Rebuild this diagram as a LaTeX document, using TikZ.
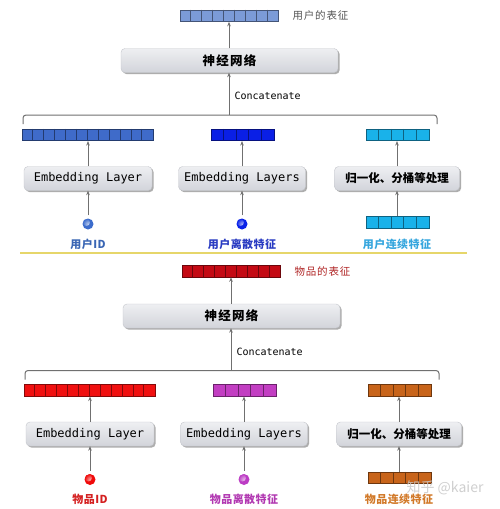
\documentclass[tikz,border=0pt]{standalone}
\usepackage{fontspec}
\setmonofont{DejaVu Sans Mono}
\newfontfamily\cjk{Noto Sans CJK SC}
\usetikzlibrary{arrows.meta,shadows,calc}

\definecolor{boxtop}{HTML}{EEEFF2}
\definecolor{boxbot}{HTML}{D2D4DA}
\definecolor{boxedge}{HTML}{C4C6CC}
\definecolor{arrowgray}{HTML}{707070}
\definecolor{sepyellow}{HTML}{E6D66A}

\definecolor{uctop}{HTML}{7B9BD8}
\definecolor{ucv1}{HTML}{3F6BC9}
\definecolor{ucv2}{HTML}{0A1FE6}
\definecolor{ucv3}{HTML}{19B2EA}
\definecolor{ultop}{HTML}{555555}
\definecolor{ul1}{HTML}{3A66B4}
\definecolor{ul2}{HTML}{2A3CC2}
\definecolor{ul3}{HTML}{35A6DE}
\definecolor{ucd1}{HTML}{3C6CCC}
\definecolor{ucd2}{HTML}{0A22E8}

\definecolor{ictop}{HTML}{C40A14}
\definecolor{icv1}{HTML}{F01010}
\definecolor{icv2}{HTML}{C23EC2}
\definecolor{icv3}{HTML}{C8641A}
\definecolor{iltop}{HTML}{B02424}
\definecolor{il1}{HTML}{D42020}
\definecolor{il2}{HTML}{B23AB2}
\definecolor{il3}{HTML}{D27A2A}
\definecolor{icd1}{HTML}{F00A0A}
\definecolor{icd2}{HTML}{BC3CC4}

\tikzset{
  vecbox/.style={rectangle, inner sep=0pt, minimum height=11.5pt, line width=0.6pt},
  procbox/.style={rectangle, rounded corners=4pt, inner sep=0pt, minimum height=24pt,
    top color=boxtop, bottom color=boxbot, draw=boxedge, line width=0.4pt,
    drop shadow={shadow xshift=1.6pt, shadow yshift=-1.6pt, fill=black!40, opacity=0.8}},
  conn/.style={draw=arrowgray, line width=1pt, -{Stealth[length=4.5pt,width=3.6pt]}},
  bracestyle/.style={draw=arrowgray, line width=1pt, rounded corners=3pt},
  monotext/.style={font=\ttfamily\fontsize{12}{14}\selectfont},
  cjktext/.style={font=\cjk\bfseries\fontsize{11.5}{13}\selectfont},
  lbltext/.style={font=\cjk\bfseries\fontsize{11}{13}\selectfont\addfontfeature{LetterSpace=4}},
  dot/.style={circle, inner sep=0pt, minimum width=11pt, minimum height=10pt, fill=#1,
    path picture={\shade[inner color=#1!35!white, outer color=#1]
      ($(path picture bounding box.center)+(-1.6pt,1.6pt)$) circle (3.6pt);}},
}

\newcommand\cellvec[6]{% name, x, y, n, cell width, colour
  \pgfmathsetmacro\vw{#4*#5}
  \node[vecbox, fill=#6, draw=#6!55!black, minimum width=\vw pt] (#1) at (#2,#3) {};
  \pgfmathtruncatemacro\vn{#4-1}
  \foreach \i in {1,...,\vn}{%
    \draw[#6!55!black, line width=0.5pt] ($(#1.north west)+(\i*#5,0)$) -- ($(#1.south west)+(\i*#5,0)$);}
}

\newcommand\halfsec[5]{% prefix, top label, id label, discrete label, continuous label
  % output vector
  \cellvec{#1top}{229}{15.75}{9}{10.9}{#1ctop}
  \node[anchor=west, font=\cjk\fontsize{10.5}{12}\selectfont\addfontfeature{LetterSpace=8}, text=#1ltop] (#1toplbl) at (289,15.5) {#2};
  % neural net
  \node[procbox, minimum width=217pt, font=\cjk\bfseries\fontsize{12.5}{14}\selectfont\addfontfeature{LetterSpace=10}] (#1nn) at (229.5,60.5) {神经网络};
  \draw[conn] (#1nn.north -| #1top.south) -- (#1top.south);
  % brace
  \coordinate (#1br) at (229,115);
  \draw[bracestyle] (23,124) |- (#1br) -| (437,124);
  \draw[conn] (#1br) -- (#1br |- #1nn.south);
  \node[anchor=west, font=\ttfamily\fontsize{10}{12}\selectfont] (#1cat) at (231,96) {Concatenate};
  % row vectors
  \cellvec{#1v1}{87.5}{135}{12}{10.9}{#1cv1}
  \cellvec{#1v2}{242.5}{135}{5}{12.6}{#1cv2}
  \cellvec{#1v3}{397.5}{135}{5}{12.6}{#1cv3}
  % boxes
  \node[procbox, minimum width=128pt, monotext] (#1b1) at (88,178.5) {Embedding Layer};
  \node[procbox, minimum width=127pt, monotext] (#1b2) at (242,178.5) {Embedding Layers};
  \node[procbox, minimum width=125pt, cjktext] (#1b3) at (397,178.5) {归一化、分桶等处理};
  \draw[conn] (#1b1.north) -- (#1b1.north |- #1v1.south);
  \draw[conn] (#1b2.north) -- (#1b2.north |- #1v2.south);
  \draw[conn] (#1b3.north) -- (#1b3.north |- #1v3.south);
  % inputs
  \node[dot=#1cd1] (#1d1) at (88,224) {};
  \node[dot=#1cd2] (#1d2) at (242,224) {};
  \cellvec{#1in}{397.5}{222.5}{5}{12.6}{#1cv3}
  \draw[conn] ([yshift=3pt]#1d1.north) -- (#1b1.south);
  \draw[conn] ([yshift=3pt]#1d2.north) -- (#1b2.south);
  \draw[conn] (#1b3.south |- #1in.north) -- (#1b3.south);
  % labels
  \node[lbltext, text=#1l1] (#1lab1) at (88,244) {#3};
  \node[lbltext, text=#1l2] (#1lab2) at (242,244) {#4};
  \node[lbltext, text=#1l3] (#1lab3) at (397,244) {#5};
}

\begin{document}
\begin{tikzpicture}[x=1pt,y=-1pt]
  \useasboundingbox[fill=white] (0,0) rectangle (500,509);
  \halfsec{u}{用户的表征}{用户ID}{用户离散特征}{用户连续特征}
  \draw[sepyellow, line width=1.4pt] (20,253) -- (467,253);
  \begin{scope}[shift={(2,255.5)}]
    \halfsec{i}{物品的表征}{物品ID}{物品离散特征}{物品连续特征}
  \end{scope}
  \node[font=\cjk\fontsize{14}{16}\selectfont, text=black!22, opacity=0.85] (wm) at (445,488) {知乎 @kaier};
\end{tikzpicture}
\end{document}
